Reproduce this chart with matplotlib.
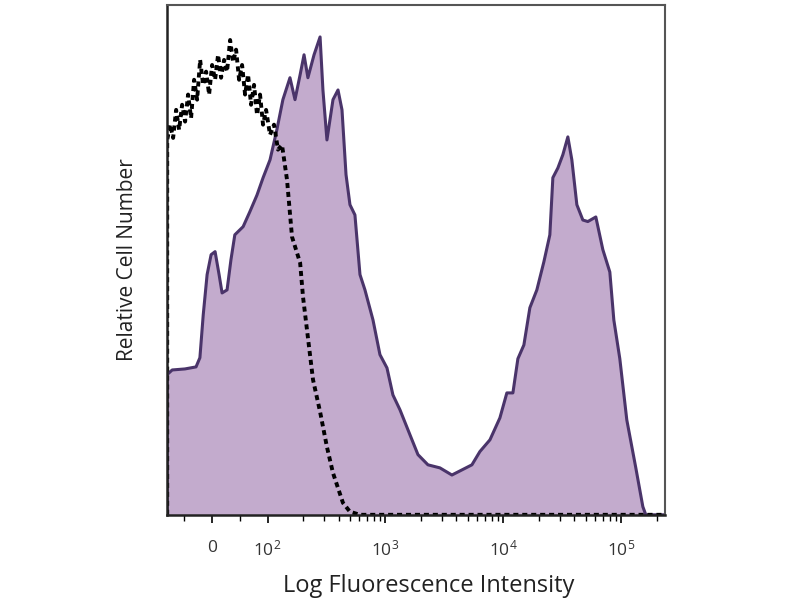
import matplotlib
matplotlib.use("Agg")
import matplotlib.pyplot as plt
from matplotlib.ticker import FixedLocator, NullFormatter

# ── data: stained sample (filled) and isotype control (dashed) ──
# x = fluorescence intensity, y = relative cell number (% of axis height)
stain_x = [-81, -81, -72, -49, -29, -22, -16, -9, -1.8, 5.4, 12.6, 18, 27, 34, 41,
           56, 68, 81, 92, 105, 120, 135, 155, 171, 189, 204, 220, 248, 279,
           295, 319, 359, 396, 428, 463, 500, 551, 608, 670, 784, 898, 1030,
           1157, 1327, 1613, 1886, 2292, 2897, 3660, 4450, 5410, 6320, 7690,
           9340, 10700, 12040, 13270, 14920, 16770, 19220, 22040, 24770, 26270,
           28970, 31930, 35210, 38060, 41970, 47180, 52010, 60790, 69700,
           79900, 86400, 97100, 111300, 132700, 152200, 161300, 233700]
stain_y = [0, 27.5, 28.4, 28.6, 29.0, 30.8, 39.2, 47.1, 51.0, 51.6, 47.1, 43.5,
           44.1, 50.0, 54.9, 56.5, 59.4, 62.7, 66.1, 69.6, 75.5, 81.4, 85.7,
           81.4, 86.3, 90.2, 85.7, 90.2, 93.7, 83.3, 73.5, 81.4, 83.3, 79.4,
           66.7, 60.8, 58.8, 47.1, 44.1, 38.2, 31.4, 28.8, 23.5, 20.6, 15.7,
           11.8, 9.8, 9.2, 7.8, 8.8, 9.8, 12.4, 14.7, 19.0, 23.9, 23.9, 30.6,
           33.3, 40.6, 44.1, 49.6, 54.9, 66.1, 68.0, 70.6, 74.1, 69.6, 60.8,
           57.8, 57.5, 58.4, 52.0, 47.6, 38.2, 30.6, 18.6, 9.2, 1.6, 0, 0]

iso_x = [-81, -81, -75.7, -70.3, -64.9, -59.5, -54.1, -48.7, -43.3, -37.9,
         -32.5, -27.0, -21.6, -16.2, -10.8, -5.4, 0, 5.4, 10.8, 16.2, 21.6,
         27.0, 32.5, 37.9, 43.3, 48.7, 54.1, 59.5, 64.9, 70.3, 75.7, 81.1,
         86.5, 91.9, 97.4, 105, 113.5, 122.7, 132.7, 146.3, 161.3, 189, 200,
         216, 243, 279, 319, 359, 436, 500, 608, 233700]
iso_y = [0, 73.5, 76.5, 73.9, 79.4, 75.5, 80.4, 77.1, 82.4, 77.8, 85.3, 81.4,
         89.2, 84.3, 86.9, 82.4, 88.2, 85.3, 90.2, 85.7, 89.2, 86.9, 93.1,
         88.8, 91.2, 85.3, 88.2, 82.4, 86.3, 80.4, 84.3, 78.4, 82.4, 76.5,
         79.4, 74.5, 76.5, 71.6, 72.5, 65.7, 54.5, 49.4, 42.7, 36.3, 26.5,
         20.2, 13.3, 8.2, 2.35, 0.6, 0, 0]

major_ticks = [0, 1e2, 1e3, 1e4, 1e5]
major_labels = ["$0$", "$10^2$", "$10^3$", "$10^4$", "$10^5$"]

FILL = "#c3abcd"
EDGE = "#4a346a"

plt.rcParams["font.family"] = ["Open Sans", "DejaVu Sans"]
plt.rcParams["mathtext.fontset"] = "custom"
plt.rcParams["mathtext.rm"] = "Open Sans"
plt.rcParams["mathtext.it"] = "Open Sans"

fig = plt.figure(figsize=(8, 6), dpi=100)
ax = fig.add_axes([0.209, 0.142, 0.622, 0.850])

ax.set_xscale("symlog", linthresh=100, linscale=0.423)
ax.fill_between(stain_x, stain_y, 0, color=FILL, lw=0)
ax.plot(stain_x, stain_y, color=EDGE, lw=2.2)
ax.plot(iso_x, iso_y, color="black", lw=2.8, ls=(0, (1.3, 1.0)))

ax.set_xlim(-81, 233700)
ax.set_ylim(0, 100)

minor = [-50, 50] + [k * 10 ** n for n in range(2, 6) for k in range(2, 10)]
ax.xaxis.set_major_locator(FixedLocator(major_ticks))
ax.set_xticklabels(major_labels, fontsize=12.5, color="#333333")
ax.xaxis.set_minor_locator(FixedLocator(minor))
ax.xaxis.set_minor_formatter(NullFormatter())
ax.tick_params(axis="x", which="major", direction="out", length=6, width=1.2, pad=12)
ax.tick_params(axis="x", which="minor", direction="out", length=4, width=1)
ax.set_yticks([])

for side in ["left", "bottom"]:
    ax.spines[side].set_linewidth(1.8)
    ax.spines[side].set_color("#222222")
for side in ["top", "right"]:
    ax.spines[side].set_linewidth(1.5)
    ax.spines[side].set_color("#555555")

ax.set_xlabel("Log Fluorescence Intensity", fontsize=17, color="#222222")
ax.xaxis.set_label_coords(0.526, -0.116)
ax.set_ylabel("Relative Cell Number", fontsize=15, color="#222222")
ax.yaxis.set_label_coords(-0.058, 0.50)

fig.savefig("out.png", dpi=100)
